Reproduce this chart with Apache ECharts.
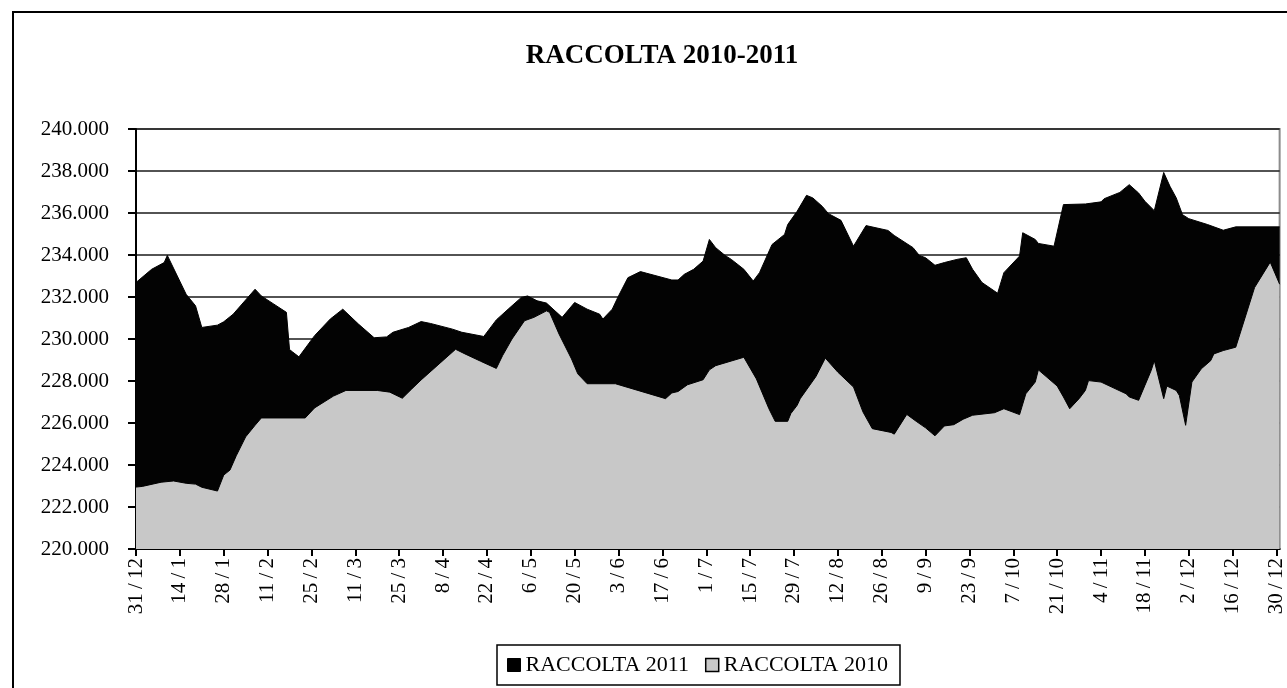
<!DOCTYPE html>
<html>
<head>
<meta charset="utf-8">
<script src="https://cdn.jsdelivr.net/npm/echarts@6/dist/echarts.min.js"></script>
<style>
  html, body { margin: 0; padding: 0; background: #fff; }
  #chart { width: 1287px; height: 688px; }
</style>
</head>
<body>
<div id="chart"></div>
<script>
// Day offsets from 31/12 and deposit totals for each year
const days2011 = [0, 5, 9, 10, 16, 19, 21, 26, 28, 31, 38, 40, 44, 48, 49, 50, 52, 57, 62, 66, 71, 76, 80, 82, 87, 91, 94, 101, 104, 111, 115, 119, 123, 125, 128, 131, 136, 140, 144, 148, 149, 152, 154, 157, 161, 163, 171, 173, 175, 178, 181, 183, 185, 188, 190, 194, 197, 199, 203, 207, 208, 211, 214, 216, 219, 221, 225, 229, 233, 240, 242, 248, 250, 252, 255, 258, 262, 265, 267, 270, 275, 277, 282, 283, 287, 288, 293, 296, 303, 308, 309, 314, 317, 320, 322, 325, 328, 330, 332, 334, 336, 342, 347, 351, 365];
const values2011 = [232690, 233320, 233640, 233980, 232130, 231580, 230550, 230660, 230820, 231180, 232370, 232050, 231660, 231270, 229500, 229380, 229150, 230160, 230950, 231420, 230710, 230060, 230100, 230320, 230550, 230830, 230740, 230470, 230320, 230120, 230910, 231450, 231980, 232050, 231820, 231710, 231030, 231740, 231420, 231180, 230950, 231420, 232050, 232920, 233210, 233130, 232810, 232810, 233080, 233320, 233710, 234740, 234350, 233980, 233790, 233320, 232760, 233160, 234500, 234980, 235450, 236080, 236840, 236720, 236320, 235970, 235650, 234420, 235400, 235170, 234930, 234350, 233980, 233870, 233510, 233640, 233790, 233870, 233320, 232690, 232180, 233160, 233950, 235060, 234740, 234550, 234420, 236400, 236430, 236530, 236680, 236980, 237350, 236950, 236560, 236110, 237930, 237270, 236720, 235920, 235730, 235450, 235180, 235340, 235340];

const days2010 = [0, 2, 8, 12, 16, 19, 21, 26, 28, 30, 32, 35, 38, 40, 54, 57, 63, 67, 77, 81, 85, 88, 91, 98, 102, 105, 110, 115, 117, 120, 124, 127, 131, 132, 135, 139, 141, 144, 153, 169, 171, 173, 176, 181, 183, 185, 194, 198, 202, 204, 208, 209, 211, 212, 217, 220, 224, 229, 232, 235, 241, 242, 246, 249, 252, 255, 258, 261, 264, 267, 274, 277, 282, 284, 287, 288, 294, 296, 298, 301, 303, 304, 308, 316, 317, 320, 322, 324, 325, 328, 329, 332, 333, 335, 337, 340, 343, 344, 347, 351, 357, 362, 365];
const values2010 = [222950, 222980, 223180, 223240, 223130, 223090, 222940, 222760, 223520, 223760, 224440, 225340, 225890, 226240, 226240, 226720, 227280, 227550, 227550, 227470, 227180, 227620, 228050, 228980, 229510, 229290, 228940, 228600, 229210, 230000, 230870, 231030, 231340, 231270, 230240, 229050, 228340, 227870, 227870, 227160, 227430, 227500, 227820, 228060, 228530, 228730, 229130, 228100, 226680, 226080, 226080, 226450, 226840, 227160, 228210, 229090, 228420, 227710, 226530, 225730, 225550, 225470, 226410, 226080, 225770, 225390, 225860, 225920, 226180, 226370, 226490, 226680, 226400, 227390, 227950, 228530, 227760, 227240, 226680, 227160, 227550, 228020, 227950, 227390, 227240, 227080, 227790, 228500, 228970, 227160, 227760, 227550, 227310, 225890, 227950, 228580, 228970, 229290, 229450, 229610, 232450, 233660, 232610];

// Fortnightly date labels along the x axis
const tickLabels = ['31/12', '14/1', '28/1', '11/2', '25/2', '11/3', '25/3', '8/4', '22/4', '6/5', '20/5', '3/6', '17/6', '1/7', '15/7', '29/7', '12/8', '26/8', '9/9', '23/9', '7/10', '21/10', '4/11', '18/11', '2/12', '16/12', '30/12'];

const SERIF = "'Liberation Serif', 'DejaVu Serif', serif";

function zip(xs, ys) {
  return xs.map((x, i) => [x, ys[i]]);
}
function thousands(v) {
  return String(v).replace(/\B(?=(\d{3})+(?!\d))/g, '.');
}
// Garamond-style spacing around the slash of a d/m label
function spacedDate(s) {
  return s.replace('/', '\u2009/\u2009');
}

const chart = echarts.init(document.getElementById('chart'), null, { renderer: 'canvas' });

chart.setOption({
  animation: false,
  backgroundColor: '#ffffff',
  graphic: [{
    type: 'rect',
    shape: { x: 13, y: 12, width: 1320, height: 720 },
    style: { fill: 'none', stroke: '#000', lineWidth: 2 },
    silent: true,
    z: -10
  }],
  title: {
    text: 'RACCOLTA 2010-2011',
    left: 657,
    top: 38,
    textAlign: 'center',
    textStyle: { fontFamily: SERIF, fontWeight: 'bold', fontSize: 27, color: '#000' }
  },
  legend: {
    left: 497,
    top: 645,
    orient: 'horizontal',
    padding: [9, 12, 9, 10],
    itemGap: 16,
    itemWidth: 13,
    itemHeight: 13,
    itemTextGap: 6,
    borderColor: '#000',
    borderWidth: 1.5,
    borderRadius: 0,
    icon: 'rect',
    textStyle: { fontFamily: SERIF, fontSize: 22, color: '#000' },
    data: [
      { name: 'RACCOLTA 2011', itemStyle: { color: '#000', borderColor: '#000', borderWidth: 1 } },
      { name: 'RACCOLTA 2010', itemStyle: { color: '#c8c8c8', borderColor: '#000', borderWidth: 1.5 } }
    ]
  },
  grid: {
    left: 136,
    right: 3,
    top: 129,
    bottom: 139,
    show: true,
    borderColor: '#8c8c8c',
    borderWidth: 2,
    backgroundColor: 'transparent'
  },
  xAxis: {
    type: 'value',
    min: 0,
    max: 365,
    interval: 14,
    axisLine: { show: true, lineStyle: { color: '#000', width: 2 } },
    axisTick: { show: true, inside: false, length: 7, lineStyle: { color: '#000', width: 2 } },
    splitLine: { show: false },
    axisLabel: {
      rotate: 90,
      margin: 9,
      fontFamily: SERIF,
      fontSize: 21,
      color: '#000',
      showMaxLabel: false,
      formatter: function (v) {
        return (v % 14 === 0 && tickLabels[v / 14]) ? spacedDate(tickLabels[v / 14]) : '';
      }
    }
  },
  yAxis: {
    type: 'value',
    min: 220000,
    max: 240000,
    interval: 2000,
    axisLine: { show: true, lineStyle: { color: '#000', width: 2 } },
    axisTick: { show: true, inside: false, length: 8, lineStyle: { color: '#000', width: 2 } },
    splitLine: { show: true, lineStyle: { color: '#1a1a1a', width: 1.5 } },
    axisLabel: {
      margin: 27,
      fontFamily: SERIF,
      fontSize: 21,
      color: '#000',
      formatter: thousands
    }
  },
  series: [
    {
      name: 'RACCOLTA 2011',
      type: 'line',
      data: zip(days2011, values2011),
      showSymbol: false,
      silent: true,
      lineStyle: { color: '#000', width: 1 },
      itemStyle: { color: '#000' },
      areaStyle: { color: '#030303', opacity: 1 }
    },
    {
      name: 'RACCOLTA 2010',
      type: 'line',
      data: zip(days2010, values2010),
      showSymbol: false,
      silent: true,
      lineStyle: { color: '#000', width: 1 },
      itemStyle: { color: '#c8c8c8' },
      areaStyle: { color: '#c8c8c8', opacity: 1 }
    }
  ]
});
</script>
</body>
</html>
